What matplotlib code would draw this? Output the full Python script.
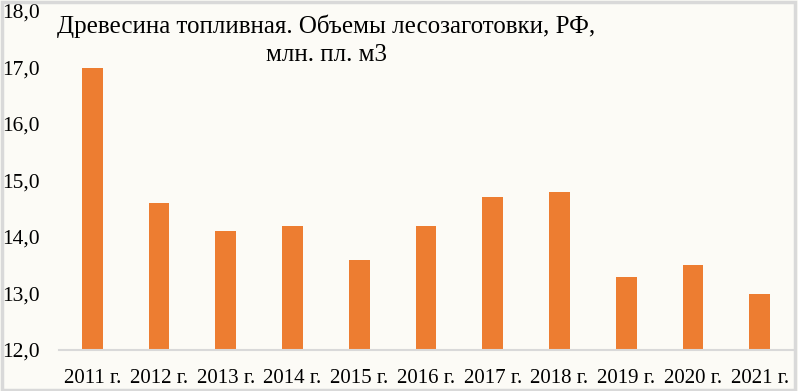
import matplotlib.pyplot as plt
from matplotlib.patches import Rectangle

years = ['2011 г.', '2012 г.', '2013 г.', '2014 г.', '2015 г.', '2016 г.',
         '2017 г.', '2018 г.', '2019 г.', '2020 г.', '2021 г.']
values = [17.0, 14.6, 14.1, 14.2, 13.6, 14.2, 14.7, 14.8, 13.3, 13.5, 13.0]
yticks = [12, 13, 14, 15, 16, 17, 18]
title = 'Древесина топливная. Объемы лесозаготовки, РФ,\nмлн. пл. м3'

plt.rcParams['font.family'] = ['Liberation Serif', 'DejaVu Serif']

bg = '#FCFBF6'
fig = plt.figure(figsize=(7.98, 3.91), dpi=100, facecolor=bg)
fig.patches.append(Rectangle((0.002, 0.003), 0.994, 0.992, transform=fig.transFigure,
                             fill=False, edgecolor='#D9D9D9', linewidth=2.5))

ax = fig.add_axes([59/798, 1-350/391, 734/798, 339/391])
ax.set_facecolor(bg)
x = range(len(years))
ax.bar(x, values, width=0.31, color='#ED7D31', zorder=2)
ax.set_xlim(-0.5, len(years)-0.5)
ax.set_ylim(12, 18)
ax.set_yticks(yticks)
ax.set_yticklabels([f'{v:.1f}'.replace('.', ',') for v in yticks], fontsize=15.5)
ax.set_xticks(list(x))
ax.set_xticklabels(years, fontsize=15)
for s in ['top', 'right', 'left']:
    ax.spines[s].set_visible(False)
ax.spines['bottom'].set_color('#D9D9D9')
ax.spines['bottom'].set_linewidth(1.5)
ax.tick_params(axis='both', length=0)
ax.tick_params(axis='y', pad=14)
ax.tick_params(axis='x', pad=14)

fig.text(326/798, 1-15/391, title, ha='center', va='top',
         fontsize=18, linespacing=1.3)

fig.savefig('out.png', dpi=100, facecolor=bg)
